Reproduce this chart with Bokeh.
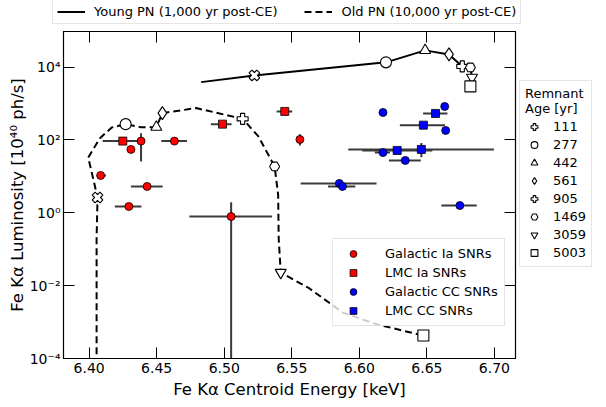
import math
from bokeh.plotting import figure
from bokeh.layouts import column, row
from bokeh.models import (Legend, LegendItem, LinearAxis, LogAxis, FixedTicker,
                          NumeralTickFormatter, CustomJSTickFormatter, Range1d)
from bokeh.embed import file_html
from bokeh.resources import INLINE

FONT = "DejaVu Sans"

# ---- data ----
# Galactic Ia SNRs (red circles)
gal_ia_x   = [6.4384, 6.4309, 6.4631, 6.4085, 6.4429, 6.4294, 6.5051, 6.5560]
gal_ia_y   = [93, 55, 93, 10.6, 5.3, 1.49, 0.79, 103]
gal_ia_xlo = [6.4384, 6.4309, 6.4534, 6.4055, 6.4309, 6.4190, 6.4742, 6.5560]
gal_ia_xhi = [6.4384, 6.4309, 6.4724, 6.4125, 6.4544, 6.4387, 6.5354, 6.5560]
gal_ia_ylo = [25.6, 55, 93, 10.6, 5.3, 1.49, 1e-7, 71]
gal_ia_yhi = [154, 55, 93, 10.6, 5.3, 1.49, 1.95, 144]

# LMC Ia SNRs (red squares)
lmc_ia_x   = [6.4249, 6.4987, 6.5448]
lmc_ia_y   = [93, 272, 607]
lmc_ia_xlo = [6.4100, 6.4901, 6.5388]
lmc_ia_xhi = [6.4384, 6.5054, 6.5503]
lmc_ia_ylo = [93, 272, 607]
lmc_ia_yhi = [93, 272, 607]

# Galactic CC SNRs (blue circles)
gal_cc_x   = [6.6175, 6.6632, 6.6639, 6.6175, 6.6340, 6.5852, 6.5875, 6.6744]
gal_cc_y   = [569, 832, 182, 45, 27.4, 6.4, 5.3, 1.58]
gal_cc_xlo = [6.6175, 6.6632, 6.6639, 6.6115, 6.6219, 6.5566, 6.5768, 6.6607]
gal_cc_xhi = [6.6175, 6.6632, 6.6639, 6.6227, 6.6455, 6.6127, 6.5970, 6.6869]
gal_cc_ylo = [569, 832, 182, 45, 27.4, 6.4, 5.3, 1.58]
gal_cc_yhi = [569, 832, 182, 45, 27.4, 6.4, 5.3, 1.58]

# LMC CC SNRs (blue squares)
lmc_cc_x   = [6.6564, 6.6474, 6.6280, 6.6459]
lmc_cc_y   = [535, 255, 51.5, 55]
lmc_cc_xlo = [6.6472, 6.6300, 6.6022, 6.5918]
lmc_cc_xhi = [6.6652, 6.6634, 6.6540, 6.6996]
lmc_cc_ylo = [535, 255, 51.5, 33.6]
lmc_cc_yhi = [535, 255, 51.5, 82]

# pulsar-nebula model tracks
young_x = [6.4829, 6.5223, 6.6197, 6.6487, 6.6664, 6.6762, 6.6822, 6.6834, 6.6822]
young_y = [3870, 5920, 13500, 28800, 22300, 10450, 9800, 5200, 2950]
old_x = [6.4055, 6.4055, 6.4062, 6.3993, 6.4080, 6.4167, 6.4270, 6.4380, 6.4497,
         6.4542, 6.4792, 6.5136, 6.5253, 6.5373, 6.5399, 6.5403, 6.5418, 6.5628,
         6.5878, 6.6127, 6.6474]
old_y = [1e-6, 0.2, 2.63, 33, 112, 220, 272, 225, 225,
         545, 750, 380, 125, 18.7, 3.1, 0.2, 0.0229, 0.0085,
         0.00182, 0.00087, 0.000426]

# remnant ages and where they sit on each track
ages = ["111", "277", "442", "561", "905", "1469", "3059", "5003"]
age_young_x = [6.5223, 6.6197, 6.6487, 6.6664, 6.6762, 6.6822, 6.6834, 6.6822]
age_young_y = [5920, 13500, 28800, 22300, 10450, 9800, 5200, 2950]
age_old_x = [6.4062, 6.4270, 6.4497, 6.4542, 6.5136, 6.5373, 6.5418, 6.6474]
age_old_y = [2.63, 272, 225, 545, 380, 18.7, 0.0229, 0.000426]
age_markers = ["plus", "circle", "triangle", "diamond", "plus", "hex",
               "inverted_triangle", "square"]
age_angles = [math.pi / 4, 0, 0, 0, 0, 0, 0, 0]
age_sizes = [11, 11, 11, 13, 11, 10, 11, 11]

x_ticks = [6.40, 6.45, 6.50, 6.55, 6.60, 6.65, 6.70]
y_ticks = [1e-4, 1e-2, 1, 1e2, 1e4]
y_tick_labels = ["10⁻⁴", "10⁻²", "10⁰", "10²", "10⁴"]

# ---- main plot ----
p = figure(width=519, height=376, output_backend="svg", toolbar_location=None,
           y_axis_type="log",
           x_range=Range1d(6.381, 6.7156), y_range=Range1d(1e-4, 9.5e4),
           min_border_left=63, min_border_right=0, min_border_top=0,
           min_border_bottom=44)
p.grid.visible = False
p.outline_line_color = "black"
p.outline_line_width = 1.2

xax = p.xaxis[0]
yax = p.yaxis[0]

# error bars
err_sets = [
    (gal_ia_x, gal_ia_y, gal_ia_xlo, gal_ia_xhi, gal_ia_ylo, gal_ia_yhi),
    (lmc_ia_x, lmc_ia_y, lmc_ia_xlo, lmc_ia_xhi, lmc_ia_ylo, lmc_ia_yhi),
    (gal_cc_x, gal_cc_y, gal_cc_xlo, gal_cc_xhi, gal_cc_ylo, gal_cc_yhi),
    (lmc_cc_x, lmc_cc_y, lmc_cc_xlo, lmc_cc_xhi, lmc_cc_ylo, lmc_cc_yhi),
]
for xs, ys, xlo, xhi, ylo, yhi in err_sets:
    p.segment(x0=xlo, y0=ys, x1=xhi, y1=ys, line_color="#3a3a3a", line_width=2)
    p.segment(x0=xs, y0=ylo, x1=xs, y1=yhi, line_color="#3a3a3a", line_width=2)

# model tracks
p.line(young_x, young_y, line_color="black", line_width=2)
p.line(old_x, old_y, line_color="black", line_width=2, line_dash="7 4")

# SNR points
r_gia = p.scatter(gal_ia_x, gal_ia_y, marker="circle", size=8, fill_color="red",
                  line_color="black", line_width=0.8)
r_lia = p.scatter(lmc_ia_x, lmc_ia_y, marker="square", size=8, fill_color="red",
                  line_color="black", line_width=0.8)
r_gcc = p.scatter(gal_cc_x, gal_cc_y, marker="circle", size=8, fill_color="blue",
                  line_color="black", line_width=0.8)
r_lcc = p.scatter(lmc_cc_x, lmc_cc_y, marker="square", size=8, fill_color="blue",
                  line_color="black", line_width=0.8)

# age markers on both tracks
for i, a in enumerate(ages):
    p.scatter([age_young_x[i], age_old_x[i]], [age_young_y[i], age_old_y[i]],
              marker=age_markers[i], size=age_sizes[i], angle=age_angles[i],
              fill_color="white", line_color="black", line_width=1.1)

# axes
xax.ticker = FixedTicker(ticks=x_ticks)
xax.formatter = NumeralTickFormatter(format="0.00")
yax.ticker = FixedTicker(ticks=y_ticks)
yax.major_label_overrides = dict(zip(y_ticks, y_tick_labels))
xax.axis_label = "Fe Kα Centroid Energy [keV]"
yax.axis_label = "Fe Kα Luminosity [10⁴⁰ ph/s]"

blank = CustomJSTickFormatter(code="return ' '")
top = LinearAxis(ticker=FixedTicker(ticks=x_ticks), formatter=blank)
right = LogAxis(ticker=FixedTicker(ticks=y_ticks), formatter=blank)
p.add_layout(top, "above")
p.add_layout(right, "right")

for ax in [xax, yax, top, right]:
    ax.major_tick_in = 11
    ax.major_tick_out = 0
    ax.minor_tick_in = 0
    ax.minor_tick_out = 0
    ax.axis_line_color = "black"
    ax.major_tick_line_color = "black"
    ax.major_label_text_font = FONT
    ax.major_label_text_font_size = "14px"
    ax.major_label_text_color = "black"
    ax.major_label_standoff = 4
    ax.axis_label_standoff = 4
    ax.axis_label_text_font = FONT
    ax.axis_label_text_font_size = "16.5px"
    ax.axis_label_text_font_style = "normal"
    ax.axis_label_text_color = "black"
yax.major_label_standoff = 3
yax.axis_label_standoff = 0
top.major_label_standoff = 0
right.major_label_standoff = 0
top.major_label_text_font_size = "2px"
right.major_label_text_font_size = "2px"


def style_legend(lg, size="13px"):
    lg.label_text_font = FONT
    lg.label_text_font_size = size
    lg.label_text_color = "black"
    lg.border_line_color = "#cccccc"
    lg.background_fill_alpha = 0.8
    lg.glyph_height = 17
    lg.label_height = 17
    lg.spacing = 2
    lg.padding = 6
    lg.margin = 0


leg_snr = Legend(items=[LegendItem(label="Galactic Ia SNRs", renderers=[r_gia]),
                        LegendItem(label="LMC Ia SNRs", renderers=[r_lia]),
                        LegendItem(label="Galactic CC SNRs", renderers=[r_gcc]),
                        LegendItem(label="LMC CC SNRs", renderers=[r_lcc])],
                 location=(269, 32))
style_legend(leg_snr)
leg_snr.glyph_width = 28
leg_snr.label_standoff = 18
p.add_layout(leg_snr, "center")


def legend_figure(w, h):
    f = figure(width=w, height=h, output_backend="svg", toolbar_location=None,
               x_axis_location=None, y_axis_location=None,
               x_range=Range1d(0, 1), y_range=Range1d(0, 1),
               min_border=0, outline_line_color=None)
    f.grid.visible = False
    return f


# top legend: the two PN tracks (same data, outside this panel's view)
top_fig = legend_figure(595, 26)
t_young = top_fig.line(young_x, young_y, line_color="black", line_width=2)
t_old = top_fig.line(old_x, old_y, line_color="black", line_width=2, line_dash="7 4")
leg_pn = Legend(items=[LegendItem(label="Young PN (1,000 yr post-CE)", renderers=[t_young]),
                       LegendItem(label="Old PN (10,000 yr post-CE)", renderers=[t_old])],
                location=(52, 2), orientation="horizontal")
style_legend(leg_pn)
leg_pn.glyph_height = 15
leg_pn.label_height = 15
leg_pn.glyph_width = 28
leg_pn.label_standoff = 9
leg_pn.spacing = 27
leg_pn.padding = 4
top_fig.add_layout(leg_pn, "center")

# right legend: remnant ages
side_fig = legend_figure(76, 376)
age_items = []
for i, a in enumerate(ages):
    r = side_fig.scatter([age_young_x[i], age_old_x[i]], [age_young_y[i], age_old_y[i]],
                         marker=age_markers[i], size=age_sizes[i], angle=age_angles[i],
                         fill_color="white", line_color="black", line_width=1.1)
    age_items.append(LegendItem(label=a, renderers=[r]))
leg_age = Legend(items=age_items, location=(0, 91), title="Remnant\nAge [yr]")
style_legend(leg_age)
leg_age.glyph_width = 18
leg_age.label_standoff = 10
leg_age.spacing = 1
leg_age.padding = 5
leg_age.title_text_font = FONT
leg_age.title_text_font_size = "13px"
leg_age.title_text_font_style = "normal"
leg_age.title_text_color = "black"
leg_age.title_standoff = 2
side_fig.add_layout(leg_age, "center")

layout = column(top_fig, row(p, side_fig))
open("out.html", "w").write(file_html(layout, INLINE))
